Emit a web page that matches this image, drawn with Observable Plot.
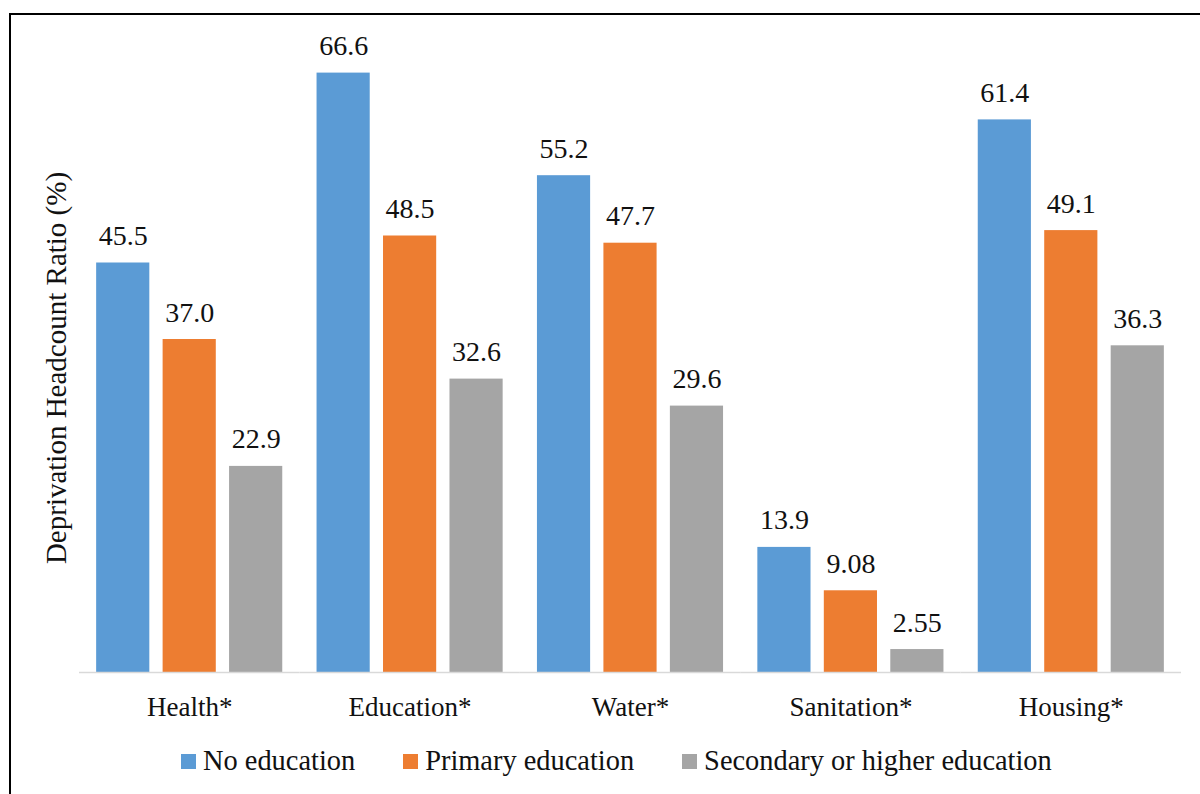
<!DOCTYPE html>
<html>
<head>
<meta charset="utf-8">
<script src="https://cdn.jsdelivr.net/npm/d3@7"></script>
<script src="https://cdn.jsdelivr.net/npm/@observablehq/plot@0.6"></script>
<style>
  html, body { margin: 0; padding: 0; background: #fff; overflow: hidden; }
  body { width: 1200px; height: 794px; position: relative; font-family: "Liberation Serif", serif; color: #111; }
  #chart { position: absolute; left: 0; top: 0; }
  #chart svg text { font-family: "Liberation Serif", serif; }
  #frame { position: absolute; left: 9px; top: 13px; width: 1300px; height: 900px; border: 2px solid #000; pointer-events: none; }
  #ylabel { position: absolute; left: 0; top: 0; transform-origin: 0 0; transform: translate(41.5px, 368px) rotate(-90deg) translate(-50%, 0); font-size: 29px; line-height: 1; white-space: nowrap; }
  #legend { position: absolute; left: 181px; top: 747px; display: flex; gap: 48px; font-size: 28.4px; line-height: 1; }
  .item { display: flex; align-items: center; gap: 7px; }
  .swatch { width: 15px; height: 15px; }
</style>
</head>
<body>
<div id="chart"></div>
<div id="ylabel">Deprivation Headcount Ratio (%)</div>
<div id="legend"></div>
<div id="frame"></div>
<script>
// Deprivation dimensions and education groups
const categories = ["Health*", "Education*", "Water*", "Sanitation*", "Housing*"];
const series = ["No education", "Primary education", "Secondary or higher education"];
const colors = ["#5b9bd5", "#ed7d31", "#a5a5a5"];

// Headcount ratio (%) per dimension, one array per education group
const noEducation = [45.5, 66.6, 55.2, 13.9, 61.4];
const primaryEducation = [37.0, 48.5, 47.7, 9.08, 49.1];
const secondaryEducation = [22.9, 32.6, 29.6, 2.55, 36.3];

const valuesBySeries = [noEducation, primaryEducation, secondaryEducation];
const data = [];
categories.forEach((c, i) => {
  series.forEach((s, j) => data.push({category: c, series: s, value: valuesBySeries[j][i]}));
});

const fmt = d3.format(".3r");
const serif = "Liberation Serif, serif";

const chart = Plot.plot({
  width: 1200,
  height: 730,
  marginTop: 42,
  marginBottom: 58,
  marginLeft: 79,
  marginRight: 19,
  style: {fontFamily: serif, fontSize: "27px", color: "#111", background: "transparent"},
  fx: {domain: categories, padding: 0, round: false, axis: "bottom", tickSize: 0, tickPadding: 24, label: null},
  x: {domain: series, paddingInner: 0.2, paddingOuter: 0.258, round: false, axis: null},
  y: {domain: [0, 70], axis: null},
  color: {domain: series, range: colors},
  marks: [
    Plot.barY(data, {fx: "category", x: "series", y: "value", fill: "series"}),
    Plot.ruleY([0], {stroke: "#d9d9d9", strokeWidth: 1.5}),
    Plot.text(data, {fx: "category", x: "series", y: "value", text: d => fmt(d.value), lineAnchor: "bottom", dy: -18, fontSize: 28, fontFamily: serif, fill: "#111"})
  ]
});
document.getElementById("chart").appendChild(chart);

// Legend below the plot
const legend = document.getElementById("legend");
series.forEach((s, j) => {
  const item = document.createElement("div");
  item.className = "item";
  const sw = document.createElement("span");
  sw.className = "swatch";
  sw.style.background = colors[j];
  const label = document.createElement("span");
  label.textContent = s;
  item.append(sw, label);
  legend.appendChild(item);
});
</script>
</body>
</html>
